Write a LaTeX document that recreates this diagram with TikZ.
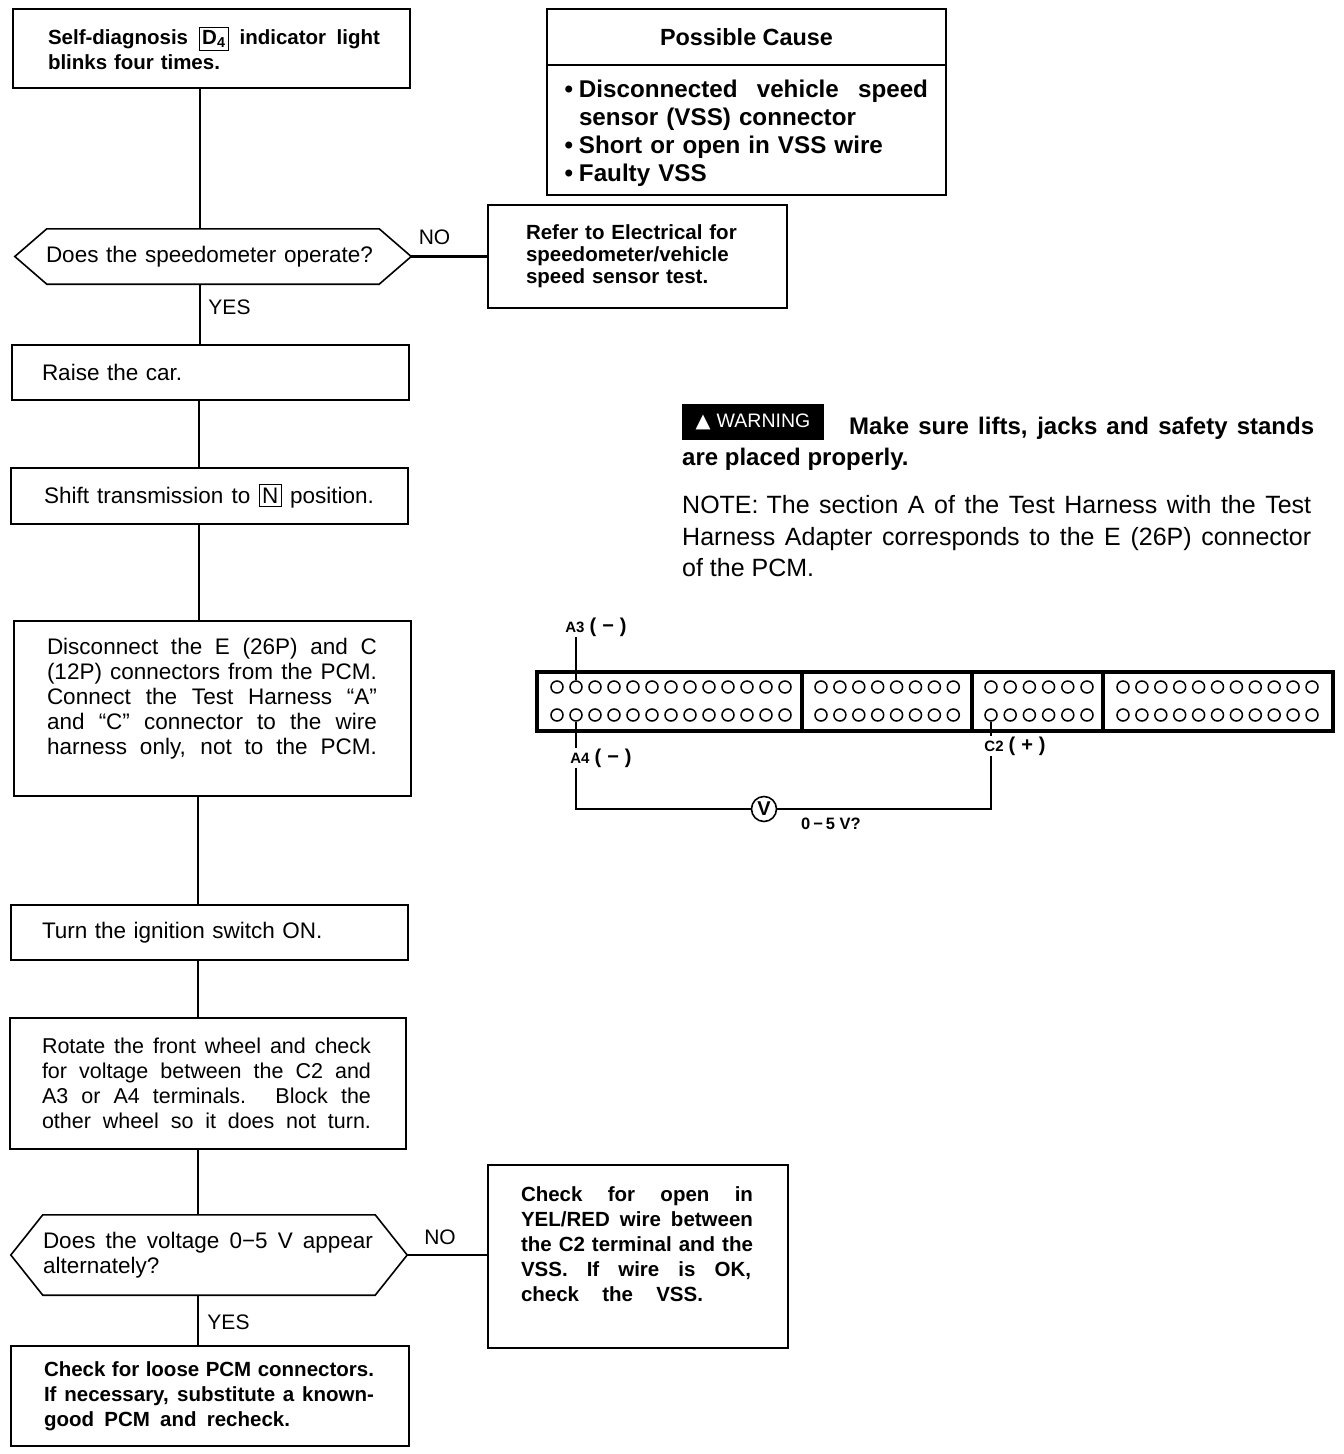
\documentclass[tikz,border=0pt]{standalone}
\usepackage{fontspec}
\setmainfont{Liberation Sans}
\newfontfamily\symfont{DejaVu Sans}
\usetikzlibrary{calc}
\newcommand{\spread}[2]{\makebox[#1pt][s]{\spaceskip=0pt\xspaceskip=0pt #2}}
\newcommand{\keybox}[1]{{\fboxsep=2.5pt\fboxrule=1pt\fbox{#1}}}
\newcommand{\hexoutline}[2]{\draw[flow] (#1.west) -- ($(#1.north west)+(#2,0)$) -- ($(#1.north east)+(-#2,0)$) -- (#1.east) -- ($(#1.south east)+(-#2,0)$) -- ($(#1.south west)+(#2,0)$) -- cycle;}
\tikzset{
    plain/.style={font=\fontsize{22.5}{25}\selectfont},
    heavy/.style={font=\fontsize{20.5}{25}\selectfont\bfseries},
    stepbox/.style={draw, line width=1.6pt, inner sep=0pt, align=left},
    askbox/.style={inner sep=0pt, align=left},
    flow/.style={line width=1.6pt},
    flowheavy/.style={line width=3pt},
    flowtag/.style={inner sep=0pt, font=\fontsize{21}{25}\selectfont},
    pinhole/.style={draw, circle, line width=1.5pt, minimum size=12pt, inner sep=0pt},
    tag/.style={inner sep=0pt, font=\fontsize{15}{18}\selectfont\bfseries},
    free/.style={inner sep=0pt, anchor=west, align=left}
}
\begin{document}
\begin{tikzpicture}[x=1pt, y=-1pt]
    \useasboundingbox (0,0) rectangle (1344,1454);
    \coordinate (trunkA) at (200,0);
    \coordinate (trunkM) at (199,0);
    \coordinate (trunkB) at (198,0);

    % Left column of steps.
    \node[stepbox, heavy, minimum width=397, minimum height=79, text width=327pt] (diag) at (211.5,48.5)
        {\spread{332}{Self-diagnosis \keybox{D\textsubscript{4}} indicator light}\\blinks four times.};
    \node[askbox, plain, minimum width=396, minimum height=55, text width=334pt] (speedo) at (213,256.5)
        {\spread{327}{Does the speedometer operate?}};
    \hexoutline{speedo}{32}
    \node[stepbox, plain, minimum width=397, minimum height=55, text width=337pt] (raise) at (210.5,372.5) {Raise the car.};
    \node[stepbox, plain, minimum width=397, minimum height=56, text width=331pt] (shift) at (209.5,496)
        {\spread{330}{Shift transmission to \keybox{N} position.}};
    \node[stepbox, plain, minimum width=397, minimum height=175, text width=331pt] (disc) at (212.5,708.5)
        {\spread{330}{Disconnect the E (26P) and C}\\\spread{330}{(12P) connectors from the PCM.}\\\spread{330}{Connect the Test Harness ``A''}\\\spread{330}{and ``C'' connector to the wire}\\\spread{330}{harness only, not to the PCM.}\\\mbox{}};
    \node[stepbox, plain, minimum width=397, minimum height=55, text width=335pt] (ignition) at (209.5,932.5) {Turn the ignition switch ON.};
    \node[stepbox, minimum width=396, minimum height=131, text width=332pt, font=\fontsize{21.5}{25}\selectfont] (rotate) at (208,1083.5)
        {\spread{329}{Rotate the front wheel and check}\\\spread{329}{for voltage between the C2 and}\\\spread{329}{A3 or A4 terminals. Block the}\\\spread{329}{other wheel so it does not turn.}};
    \node[askbox, plain, minimum width=396, minimum height=80, text width=332pt] (voltage) at (209,1255)
        {\spread{330}{Does the voltage 0−5 V appear}\\alternately?};
    \hexoutline{voltage}{32}
    \node[stepbox, heavy, minimum width=398, minimum height=100, text width=332pt] (recheck) at (210,1396)
        {\spread{330}{Check for loose PCM connectors.}\\\spread{330}{If necessary, substitute a known-}\\\spread{246}{good PCM and recheck.}};

    % Boxes on the right of the column.
    \node[stepbox, minimum width=399, minimum height=56, align=center, font=\fontsize{23.4}{26}\selectfont\bfseries] (causehead) at (746.5,37) {Possible Cause};
    \node[stepbox, minimum width=399, minimum height=130, text width=335pt, font=\fontsize{24.2}{28}\selectfont\bfseries] (causebody) at (746.5,130)
        {\leavevmode\rule{0pt}{24pt}\llap{•\hspace{6pt}}\spread{349}{Disconnected vehicle speed}\\sensor (VSS) connector\\\leavevmode\llap{•\hspace{6pt}}Short or open in VSS wire\\\leavevmode\llap{•\hspace{6pt}}Faulty VSS};
    \node[stepbox, minimum width=299, minimum height=103, text width=223pt, font=\fontsize{20.5}{22}\selectfont\bfseries] (refer) at (637.5,256.5)
        {Refer to Electrical for\\speedometer/vehicle\\speed sensor test.};
    \node[stepbox, heavy, minimum width=300, minimum height=183, text width=234pt] (opencheck) at (638,1256.5)
        {\spread{232}{Check for open in}\\\spread{232}{YEL/RED wire between}\\\spread{232}{the C2 terminal and the}\\\spread{230}{VSS. If wire is OK,}\\\spread{182}{check the VSS.}\\\mbox{}};

    % Flow lines.
    \draw[flow] (diag.south -| trunkA) -- (speedo.north -| trunkA);
    \draw[flow] (speedo.south -| trunkA) -- (raise.north -| trunkA);
    \draw[flow] (raise.south -| trunkM) -- (shift.north -| trunkM);
    \draw[flow] (shift.south -| trunkM) -- (disc.north -| trunkM);
    \draw[flow] (disc.south -| trunkB) -- (ignition.north -| trunkB);
    \draw[flow] (ignition.south -| trunkB) -- (rotate.north -| trunkB);
    \draw[flow] (rotate.south -| trunkB) -- (voltage.north -| trunkB);
    \draw[flow] (voltage.south -| trunkB) -- (recheck.north -| trunkB);
    \draw[flowheavy] (speedo.east) -- (speedo.east -| refer.west);
    \draw[flow] (voltage.east) -- (voltage.east -| opencheck.west);
    \node[flowtag] (no1) at (434.5,237) {NO};
    \node[flowtag] (yes1) at (229.5,307) {YES};
    \node[flowtag] (no2) at (440,1237) {NO};
    \node[flowtag] (yes2) at (228.5,1322) {YES};

    % Warning and note.
    \node[fill=black, text=white, minimum width=142, minimum height=36, inner sep=0pt, font=\fontsize{19.5}{22}\selectfont] (warnflag) at (753,422)
        {\raisebox{-3pt}{{\symfont ▲}\hspace{6pt}WARNING}};
    \node[free, font=\fontsize{24}{26}\selectfont\bfseries] (warnone) at (849,428) {\spread{465}{Make sure lifts, jacks and safety stands}};
    \node[free, font=\fontsize{24}{26}\selectfont\bfseries] (warntwo) at (682,459) {are placed properly.};
    \node[free, font=\fontsize{25}{31.5}\selectfont] (noteblock) at (682,536.5)
        {\spread{629}{NOTE:\hspace{8pt}The section A of the Test Harness with the Test}\\\spread{629}{Harness Adapter corresponds to the E (26P) connector}\\of the PCM.};

    % Connector face with its four sections.
    \draw[line width=3.5pt] (537,672) rectangle (1333,731);
    \foreach \bx in {802,972,1103} {
        \draw[line width=3.5pt] (\bx,672) -- (\bx,731);
    }
    \foreach \sect/\startx/\stepx/\num in {A/557/19/13, B/821/18.9/8, C/991/19.2/6, D/1123/18.9/11} {
        \foreach \i in {1,...,\num} {
            \pgfmathtruncatemacro{\odd}{2*\i-1}
            \pgfmathtruncatemacro{\even}{2*\i}
            \node[pinhole] (pin\sect\odd) at ({\startx+(\i-1)*\stepx},687) {};
            \node[pinhole] (pin\sect\even) at ({\startx+(\i-1)*\stepx},715) {};
        }
    }

    % Meter wiring.
    \node[tag] (a3tag) at (596,627) {A3\hspace{5pt}{\fontsize{20}{20}\selectfont(\hspace{6pt}−\hspace{6pt})}};
    \node[tag] (a4tag) at (601,758) {A4\hspace{5pt}{\fontsize{20}{20}\selectfont(\hspace{6pt}−\hspace{6pt})}};
    \node[tag] (c2tag) at (1015,746) {C2\hspace{5pt}{\fontsize{20}{20}\selectfont(\hspace{6pt}+\hspace{6pt})}};
    \node[draw, circle, line width=1.6pt, minimum size=25pt, inner sep=0pt, font=\fontsize{20}{22}\selectfont\bfseries] (vmeter) at (764,809) {V};
    \node[tag, font=\fontsize{16.5}{18}\selectfont\bfseries] (rangetag) at (831,824) {0\hspace{3pt}−\hspace{3pt}5 V?};
    \draw[flow] (pinA3.north) -- (pinA3.north |- a3tag.south);
    \draw[flow] (pinA4.south) -- (pinA4.south |- a4tag.north);
    \draw[flow] (pinA4 |- a4tag.south) |- (vmeter.west);
    \draw[flow] (vmeter.east) -| (pinC2 |- c2tag.south);
    \draw[flow] (pinC2.south) -- (pinC2 |- c2tag.north);
\end{tikzpicture}
\end{document}
